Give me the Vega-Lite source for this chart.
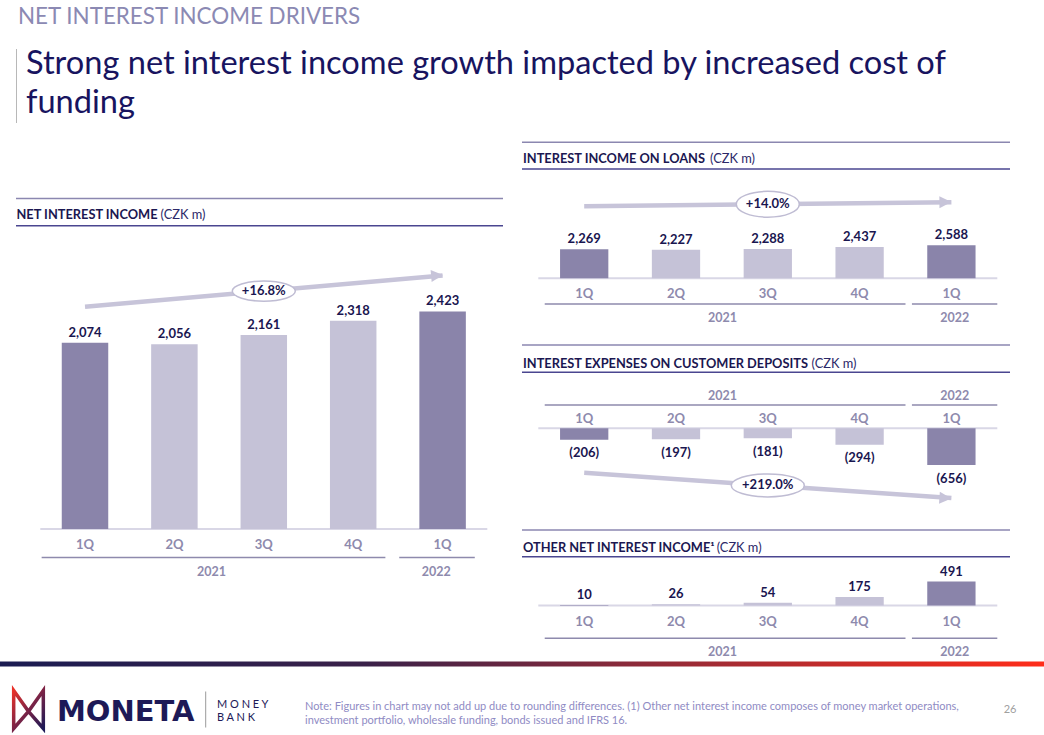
{
  "$schema": "https://vega.github.io/schema/vega-lite/v6.json",
  "width": 1044,
  "height": 735,
  "autosize": {"type": "none"},
  "padding": 0,
  "background": "white",
  "config": {"axis": {"disable": true}, "view": {"stroke": null}, "font": "Lato"},
  "datasets": {
    "quarters": [
      {"period": "1Q 2021", "quarter": "1Q", "year": "2021", "nii": 2074, "loans": 2269, "deposits": -206, "other": 10},
      {"period": "2Q 2021", "quarter": "2Q", "year": "2021", "nii": 2056, "loans": 2227, "deposits": -197, "other": 26},
      {"period": "3Q 2021", "quarter": "3Q", "year": "2021", "nii": 2161, "loans": 2288, "deposits": -181, "other": 54},
      {"period": "4Q 2021", "quarter": "4Q", "year": "2021", "nii": 2318, "loans": 2437, "deposits": -294, "other": 175},
      {"period": "1Q 2022", "quarter": "1Q", "year": "2022", "nii": 2423, "loans": 2588, "deposits": -656, "other": 491}
    ],
    "years": [
      {"year": "2021", "first": "1Q 2021", "last": "4Q 2021"},
      {"year": "2022", "first": "1Q 2022", "last": "1Q 2022"}
    ],
    "span": [{"from": "1Q 2021", "to": "1Q 2022"}]
  },
  "resolve": {"scale": {"x": "independent", "y": "independent"}},
  "layer": [
    {
      "layer": [
        {"data": {"name": "span"}, "mark": {"type": "rule", "color": "#d9d7e6", "strokeWidth": 2},
         "encoding": {"x": {"field": "from", "type": "nominal", "bandPosition": 0}, "x2": {"field": "to", "bandPosition": 1}, "y": {"datum": 0, "type": "quantitative"}}},
        {"data": {"name": "quarters"}, "mark": {"type": "bar", "width": {"band": 0.52}},
         "encoding": {
           "x": {"field": "period", "type": "nominal", "scale": {"type": "band", "domain": ["1Q 2021", "2Q 2021", "3Q 2021", "4Q 2021", "1Q 2022"], "range": [40.3, 487.3], "paddingInner": 0, "paddingOuter": 0}},
           "y": {"field": "nii", "type": "quantitative", "scale": {"domain": [0, 2500], "range": [529, 304.5], "nice": false}},
           "color": {"condition": {"test": "datum.quarter === '1Q'", "value": "#8a84aa"}, "value": "#c5c2d7"}}},
        {"data": {"name": "quarters"}, "mark": {"type": "text", "baseline": "alphabetic", "dy": -6, "fontSize": 13, "fontWeight": "bold", "color": "#1a1650"},
         "encoding": {"x": {"field": "period", "type": "nominal"}, "y": {"field": "nii", "type": "quantitative"}, "text": {"field": "nii", "type": "quantitative", "format": ","}}},
        {"data": {"name": "quarters"}, "mark": {"type": "text", "baseline": "middle", "fontSize": 13, "fontWeight": "bold", "color": "#8e8aad"},
         "encoding": {"x": {"field": "period", "type": "nominal"}, "y": {"datum": -178, "type": "quantitative"}, "text": {"field": "quarter"}}},
        {"data": {"name": "years"}, "mark": {"type": "rule", "color": "#8e8aad", "strokeWidth": 1.5},
         "encoding": {"x": {"field": "first", "type": "nominal", "bandPosition": 0.015}, "x2": {"field": "last", "bandPosition": 0.86}, "y": {"datum": -317, "type": "quantitative"}}},
        {"data": {"name": "years"}, "transform": [{"filter": "datum.year === '2021'"}], "mark": {"type": "text", "baseline": "middle", "fontSize": 12.5, "fontWeight": "bold", "color": "#8e8aad"},
         "encoding": {"x": {"field": "first", "type": "nominal", "bandPosition": 1.915}, "y": {"datum": -484, "type": "quantitative"}, "text": {"field": "year"}}},
        {"data": {"name": "years"}, "transform": [{"filter": "datum.year === '2022'"}], "mark": {"type": "text", "baseline": "middle", "fontSize": 12.5, "fontWeight": "bold", "color": "#8e8aad"},
         "encoding": {"x": {"field": "first", "type": "nominal", "bandPosition": 0.43}, "y": {"datum": -484, "type": "quantitative"}, "text": {"field": "year"}}},
        {"data": {"name": "quarters"}, "transform": [{"filter": {"field": "period", "oneOf": ["1Q 2021", "1Q 2022"]}}], "mark": {"type": "line", "color": "#c7c4d9", "strokeWidth": 4.5, "strokeCap": "butt", "yOffset": -36},
         "encoding": {"x": {"field": "period", "type": "nominal"}, "y": {"field": "nii", "type": "quantitative"}}},
        {"data": {"name": "quarters"}, "transform": [{"filter": "datum.period === '1Q 2022'"}], "mark": {"type": "point", "shape": "M-1,-1L1,0L-1,1Z", "size": 144, "filled": true, "opacity": 1, "color": "#c7c4d9", "angle": -5, "xOffset": -5.5, "yOffset": -36},
         "encoding": {"x": {"field": "period", "type": "nominal"}, "y": {"field": "nii", "type": "quantitative"}}},
        {"data": {"name": "quarters"}, "transform": [{"filter": {"field": "period", "oneOf": ["1Q 2021", "1Q 2022"]}}, {"aggregate": [{"op": "mean", "field": "nii", "as": "mid_nii"}]}],
         "mark": {"type": "point", "shape": "M-1,0C-1,-0.177,-0.552,-0.32,0,-0.32C0.552,-0.32,1,-0.177,1,0C1,0.177,0.552,0.32,0,0.32C-0.552,0.32,-1,0.177,-1,0Z", "size": 3969, "filled": true, "fill": "white", "stroke": "#bfbcd3", "strokeWidth": 1.5, "opacity": 1, "yOffset": -36},
         "encoding": {"x": {"datum": "3Q 2021", "type": "nominal"}, "y": {"field": "mid_nii", "type": "quantitative"}}},
        {"data": {"name": "quarters"}, "transform": [{"filter": {"field": "period", "oneOf": ["1Q 2021", "1Q 2022"]}}, {"aggregate": [{"op": "mean", "field": "nii", "as": "mid_nii"}]}],
         "mark": {"type": "text", "baseline": "middle", "fontSize": 13, "fontWeight": "bold", "color": "#1a1650", "yOffset": -36},
         "encoding": {"x": {"datum": "3Q 2021", "type": "nominal"}, "y": {"field": "mid_nii", "type": "quantitative"}, "text": {"value": "+16.8%"}}}
      ]
    },
    {
      "layer": [
        {"data": {"name": "span"}, "mark": {"type": "rule", "color": "#d9d7e6", "strokeWidth": 2},
         "encoding": {"x": {"field": "from", "type": "nominal", "bandPosition": 0}, "x2": {"field": "to", "bandPosition": 1}, "y": {"datum": 0, "type": "quantitative"}}},
        {"data": {"name": "quarters"}, "mark": {"type": "bar", "width": {"band": 0.526}},
         "encoding": {
           "x": {"field": "period", "type": "nominal", "scale": {"type": "band", "domain": ["1Q 2021", "2Q 2021", "3Q 2021", "4Q 2021", "1Q 2022"], "range": [538.3, 997.3], "paddingInner": 0, "paddingOuter": 0}},
           "y": {"field": "loans", "type": "quantitative", "scale": {"domain": [0, 2500], "range": [278.2, 246.3], "nice": false}},
           "color": {"condition": {"test": "datum.quarter === '1Q'", "value": "#8a84aa"}, "value": "#c5c2d7"}}},
        {"data": {"name": "quarters"}, "mark": {"type": "text", "baseline": "alphabetic", "dy": -6, "fontSize": 13, "fontWeight": "bold", "color": "#1a1650"},
         "encoding": {"x": {"field": "period", "type": "nominal"}, "y": {"field": "loans", "type": "quantitative"}, "text": {"field": "loans", "type": "quantitative", "format": ","}}},
        {"data": {"name": "quarters"}, "mark": {"type": "text", "baseline": "middle", "fontSize": 13, "fontWeight": "bold", "color": "#8e8aad"},
         "encoding": {"x": {"field": "period", "type": "nominal"}, "y": {"datum": -1277, "type": "quantitative"}, "text": {"field": "quarter"}}},
        {"data": {"name": "years"}, "mark": {"type": "rule", "color": "#8e8aad", "strokeWidth": 1.5},
         "encoding": {"x": {"field": "first", "type": "nominal", "bandPosition": 0.07}, "x2": {"field": "last", "bandPosition": 1.0}, "y": {"datum": -2022, "type": "quantitative"}}},
        {"data": {"name": "years"}, "transform": [{"filter": "datum.year === '2021'"}], "mark": {"type": "text", "baseline": "middle", "fontSize": 12.5, "fontWeight": "bold", "color": "#8e8aad"},
         "encoding": {"x": {"field": "first", "type": "nominal", "bandPosition": 2.007}, "y": {"datum": -3119, "type": "quantitative"}, "text": {"field": "year"}}},
        {"data": {"name": "years"}, "transform": [{"filter": "datum.year === '2022'"}], "mark": {"type": "text", "baseline": "middle", "fontSize": 12.5, "fontWeight": "bold", "color": "#8e8aad"},
         "encoding": {"x": {"field": "first", "type": "nominal", "bandPosition": 0.536}, "y": {"datum": -3119, "type": "quantitative"}, "text": {"field": "year"}}},
        {"data": {"name": "quarters"}, "transform": [{"filter": {"field": "period", "oneOf": ["1Q 2021", "1Q 2022"]}}], "mark": {"type": "line", "color": "#c7c4d9", "strokeWidth": 4.5, "strokeCap": "butt", "yOffset": -43},
         "encoding": {"x": {"field": "period", "type": "nominal"}, "y": {"field": "loans", "type": "quantitative"}}},
        {"data": {"name": "quarters"}, "transform": [{"filter": "datum.period === '1Q 2022'"}], "mark": {"type": "point", "shape": "M-1,-1L1,0L-1,1Z", "size": 144, "filled": true, "opacity": 1, "color": "#c7c4d9", "angle": -0.6, "xOffset": -6, "yOffset": -43},
         "encoding": {"x": {"field": "period", "type": "nominal"}, "y": {"field": "loans", "type": "quantitative"}}},
        {"data": {"name": "quarters"}, "transform": [{"filter": {"field": "period", "oneOf": ["1Q 2021", "1Q 2022"]}}, {"aggregate": [{"op": "mean", "field": "loans", "as": "mid_loans"}]}],
         "mark": {"type": "point", "shape": "M-1,0C-1,-0.226,-0.552,-0.41,0,-0.41C0.552,-0.41,1,-0.226,1,0C1,0.226,0.552,0.41,0,0.41C-0.552,0.41,-1,0.226,-1,0Z", "size": 3969, "filled": true, "fill": "white", "stroke": "#bfbcd3", "strokeWidth": 1.5, "opacity": 1, "yOffset": -43},
         "encoding": {"x": {"datum": "3Q 2021", "type": "nominal"}, "y": {"field": "mid_loans", "type": "quantitative"}}},
        {"data": {"name": "quarters"}, "transform": [{"filter": {"field": "period", "oneOf": ["1Q 2021", "1Q 2022"]}}, {"aggregate": [{"op": "mean", "field": "loans", "as": "mid_loans"}]}],
         "mark": {"type": "text", "baseline": "middle", "fontSize": 13, "fontWeight": "bold", "color": "#1a1650", "yOffset": -43},
         "encoding": {"x": {"datum": "3Q 2021", "type": "nominal"}, "y": {"field": "mid_loans", "type": "quantitative"}, "text": {"value": "+14.0%"}}}
      ]
    },
    {
      "layer": [
        {"data": {"name": "span"}, "mark": {"type": "rule", "color": "#d9d7e6", "strokeWidth": 2},
         "encoding": {"x": {"field": "from", "type": "nominal", "bandPosition": 0}, "x2": {"field": "to", "bandPosition": 1}, "y": {"datum": 0, "type": "quantitative"}}},
        {"data": {"name": "quarters"}, "mark": {"type": "bar", "width": {"band": 0.526}},
         "encoding": {
           "x": {"field": "period", "type": "nominal", "scale": {"type": "band", "domain": ["1Q 2021", "2Q 2021", "3Q 2021", "4Q 2021", "1Q 2022"], "range": [538.3, 997.3], "paddingInner": 0, "paddingOuter": 0}},
           "y": {"field": "deposits", "type": "quantitative", "scale": {"domain": [-1000, 0], "range": [484.4, 428.2], "nice": false}},
           "color": {"condition": {"test": "datum.quarter === '1Q'", "value": "#8a84aa"}, "value": "#c5c2d7"}}},
        {"data": {"name": "quarters"}, "mark": {"type": "text", "baseline": "alphabetic", "dy": 17.5, "fontSize": 13, "fontWeight": "bold", "color": "#1a1650"},
         "encoding": {"x": {"field": "period", "type": "nominal"}, "y": {"field": "deposits", "type": "quantitative"}, "text": {"field": "deposits", "type": "quantitative", "format": "(,"}}},
        {"data": {"name": "quarters"}, "mark": {"type": "text", "baseline": "middle", "fontSize": 13, "fontWeight": "bold", "color": "#8e8aad"},
         "encoding": {"x": {"field": "period", "type": "nominal"}, "y": {"datum": 155, "type": "quantitative"}, "text": {"field": "quarter"}}},
        {"data": {"name": "years"}, "mark": {"type": "rule", "color": "#8e8aad", "strokeWidth": 1.5},
         "encoding": {"x": {"field": "first", "type": "nominal", "bandPosition": 0.07}, "x2": {"field": "last", "bandPosition": 1.0}, "y": {"datum": 413, "type": "quantitative"}}},
        {"data": {"name": "years"}, "transform": [{"filter": "datum.year === '2021'"}], "mark": {"type": "text", "baseline": "middle", "fontSize": 12.5, "fontWeight": "bold", "color": "#8e8aad"},
         "encoding": {"x": {"field": "first", "type": "nominal", "bandPosition": 2.007}, "y": {"datum": 573, "type": "quantitative"}, "text": {"field": "year"}}},
        {"data": {"name": "years"}, "transform": [{"filter": "datum.year === '2022'"}], "mark": {"type": "text", "baseline": "middle", "fontSize": 12.5, "fontWeight": "bold", "color": "#8e8aad"},
         "encoding": {"x": {"field": "first", "type": "nominal", "bandPosition": 0.536}, "y": {"datum": 573, "type": "quantitative"}, "text": {"field": "year"}}},
        {"data": {"name": "quarters"}, "transform": [{"filter": {"field": "period", "oneOf": ["1Q 2021", "1Q 2022"]}}], "mark": {"type": "line", "color": "#c7c4d9", "strokeWidth": 4.5, "strokeCap": "butt", "yOffset": 33},
         "encoding": {"x": {"field": "period", "type": "nominal"}, "y": {"field": "deposits", "type": "quantitative"}}},
        {"data": {"name": "quarters"}, "transform": [{"filter": "datum.period === '1Q 2022'"}], "mark": {"type": "point", "shape": "M-1,-1L1,0L-1,1Z", "size": 144, "filled": true, "opacity": 1, "color": "#c7c4d9", "angle": 4, "xOffset": -6, "yOffset": 33},
         "encoding": {"x": {"field": "period", "type": "nominal"}, "y": {"field": "deposits", "type": "quantitative"}}},
        {"data": {"name": "quarters"}, "transform": [{"filter": {"field": "period", "oneOf": ["1Q 2021", "1Q 2022"]}}, {"aggregate": [{"op": "mean", "field": "deposits", "as": "mid_dep"}]}],
         "mark": {"type": "point", "shape": "M-1,0C-1,-0.174,-0.552,-0.315,0,-0.315C0.552,-0.315,1,-0.174,1,0C1,0.174,0.552,0.315,0,0.315C-0.552,0.315,-1,0.174,-1,0Z", "size": 5329, "filled": true, "fill": "white", "stroke": "#bfbcd3", "strokeWidth": 1.5, "opacity": 1, "yOffset": 33},
         "encoding": {"x": {"datum": "3Q 2021", "type": "nominal"}, "y": {"field": "mid_dep", "type": "quantitative"}}},
        {"data": {"name": "quarters"}, "transform": [{"filter": {"field": "period", "oneOf": ["1Q 2021", "1Q 2022"]}}, {"aggregate": [{"op": "mean", "field": "deposits", "as": "mid_dep"}]}],
         "mark": {"type": "text", "baseline": "middle", "fontSize": 13, "fontWeight": "bold", "color": "#1a1650", "yOffset": 33},
         "encoding": {"x": {"datum": "3Q 2021", "type": "nominal"}, "y": {"field": "mid_dep", "type": "quantitative"}, "text": {"value": "+219.0%"}}}
      ]
    },
    {
      "layer": [
        {"data": {"name": "span"}, "mark": {"type": "rule", "color": "#d9d7e6", "strokeWidth": 2},
         "encoding": {"x": {"field": "from", "type": "nominal", "bandPosition": 0}, "x2": {"field": "to", "bandPosition": 1}, "y": {"datum": 0, "type": "quantitative"}}},
        {"data": {"name": "quarters"}, "mark": {"type": "bar", "width": {"band": 0.526}},
         "encoding": {
           "x": {"field": "period", "type": "nominal", "scale": {"type": "band", "domain": ["1Q 2021", "2Q 2021", "3Q 2021", "4Q 2021", "1Q 2022"], "range": [538.3, 997.3], "paddingInner": 0, "paddingOuter": 0}},
           "y": {"field": "other", "type": "quantitative", "scale": {"domain": [0, 500], "range": [605.5, 581.1], "nice": false}},
           "color": {"condition": {"test": "datum.quarter === '1Q'", "value": "#8a84aa"}, "value": "#c5c2d7"}}},
        {"data": {"name": "quarters"}, "mark": {"type": "text", "baseline": "alphabetic", "dy": -6, "fontSize": 13, "fontWeight": "bold", "color": "#1a1650"},
         "encoding": {"x": {"field": "period", "type": "nominal"}, "y": {"field": "other", "type": "quantitative"}, "text": {"field": "other", "type": "quantitative", "format": ","}}},
        {"data": {"name": "quarters"}, "mark": {"type": "text", "baseline": "middle", "fontSize": 13, "fontWeight": "bold", "color": "#8e8aad"},
         "encoding": {"x": {"field": "period", "type": "nominal"}, "y": {"datum": -330, "type": "quantitative"}, "text": {"field": "quarter"}}},
        {"data": {"name": "years"}, "mark": {"type": "rule", "color": "#8e8aad", "strokeWidth": 1.5},
         "encoding": {"x": {"field": "first", "type": "nominal", "bandPosition": 0.07}, "x2": {"field": "last", "bandPosition": 1.0}, "y": {"datum": -672, "type": "quantitative"}}},
        {"data": {"name": "years"}, "transform": [{"filter": "datum.year === '2021'"}], "mark": {"type": "text", "baseline": "middle", "fontSize": 12.5, "fontWeight": "bold", "color": "#8e8aad"},
         "encoding": {"x": {"field": "first", "type": "nominal", "bandPosition": 2.007}, "y": {"datum": -953, "type": "quantitative"}, "text": {"field": "year"}}},
        {"data": {"name": "years"}, "transform": [{"filter": "datum.year === '2022'"}], "mark": {"type": "text", "baseline": "middle", "fontSize": 12.5, "fontWeight": "bold", "color": "#8e8aad"},
         "encoding": {"x": {"field": "first", "type": "nominal", "bandPosition": 0.536}, "y": {"datum": -953, "type": "quantitative"}, "text": {"field": "year"}}}
      ]
    },
    {"data": {"values": [{}]}, "mark": {"type": "text", "align": "left", "baseline": "alphabetic", "fontSize": 22.4, "color": "#8b89b3"},
     "encoding": {"x": {"value": 18}, "y": {"value": 24}, "text": {"value": "NET INTEREST INCOME DRIVERS"}}},
    {"data": {"values": [{}]}, "mark": {"type": "text", "align": "left", "baseline": "alphabetic", "fontSize": 32.6, "lineHeight": 39.2, "color": "#18145f"},
     "encoding": {"x": {"value": 26}, "y": {"value": 74}, "text": {"value": ["Strong net interest income growth impacted by increased cost of", "funding"]}}},
    {"data": {"values": [{}]}, "mark": {"type": "rule", "color": "#b8b8b8", "strokeWidth": 1},
     "encoding": {"x": {"value": 16.5}, "y": {"value": 49}, "y2": {"value": 123}}},
    {"data": {"values": [{}]}, "mark": {"type": "rule", "color": "#8b87b0", "strokeWidth": 1.5},
     "encoding": {"x": {"value": 16}, "x2": {"value": 503}, "y": {"value": 198.5}}},
    {"data": {"values": [{}]}, "mark": {"type": "rule", "color": "#4a4690", "strokeWidth": 1.5},
     "encoding": {"x": {"value": 16}, "x2": {"value": 503}, "y": {"value": 225.7}}},
    {"data": {"values": [{}]}, "mark": {"type": "rule", "color": "#8b87b0", "strokeWidth": 1.5},
     "encoding": {"x": {"value": 522}, "x2": {"value": 1010}, "y": {"value": 142.3}}},
    {"data": {"values": [{}]}, "mark": {"type": "rule", "color": "#4a4690", "strokeWidth": 1.5},
     "encoding": {"x": {"value": 522}, "x2": {"value": 1010}, "y": {"value": 169}}},
    {"data": {"values": [{}]}, "mark": {"type": "rule", "color": "#8b87b0", "strokeWidth": 1.5},
     "encoding": {"x": {"value": 522}, "x2": {"value": 1010}, "y": {"value": 345}}},
    {"data": {"values": [{}]}, "mark": {"type": "rule", "color": "#4a4690", "strokeWidth": 1.5},
     "encoding": {"x": {"value": 522}, "x2": {"value": 1010}, "y": {"value": 372.3}}},
    {"data": {"values": [{}]}, "mark": {"type": "rule", "color": "#8b87b0", "strokeWidth": 1.5},
     "encoding": {"x": {"value": 522}, "x2": {"value": 1010}, "y": {"value": 530}}},
    {"data": {"values": [{}]}, "mark": {"type": "rule", "color": "#4a4690", "strokeWidth": 1.5},
     "encoding": {"x": {"value": 522}, "x2": {"value": 1010}, "y": {"value": 556.7}}},
    {"data": {"values": [{}]}, "mark": {"type": "text", "align": "left", "baseline": "alphabetic", "fontSize": 12.8, "fontWeight": "bold", "color": "#1b1751"},
     "encoding": {"x": {"value": 16.5}, "y": {"value": 219.3}, "text": {"value": "NET INTEREST INCOME"}}},
    {"data": {"values": [{}]}, "mark": {"type": "text", "align": "left", "baseline": "alphabetic", "fontSize": 12.8, "color": "#2c2868"},
     "encoding": {"x": {"value": 160.5}, "y": {"value": 219.3}, "text": {"value": "(CZK m)"}}},
    {"data": {"values": [{}]}, "mark": {"type": "text", "align": "left", "baseline": "alphabetic", "fontSize": 12.8, "fontWeight": "bold", "color": "#1b1751"},
     "encoding": {"x": {"value": 523}, "y": {"value": 162.7}, "text": {"value": "INTEREST INCOME ON LOANS"}}},
    {"data": {"values": [{}]}, "mark": {"type": "text", "align": "left", "baseline": "alphabetic", "fontSize": 12.8, "color": "#2c2868"},
     "encoding": {"x": {"value": 710}, "y": {"value": 162.7}, "text": {"value": "(CZK m)"}}},
    {"data": {"values": [{}]}, "mark": {"type": "text", "align": "left", "baseline": "alphabetic", "fontSize": 12.8, "fontWeight": "bold", "color": "#1b1751"},
     "encoding": {"x": {"value": 523}, "y": {"value": 367.7}, "text": {"value": "INTEREST EXPENSES ON CUSTOMER DEPOSITS"}}},
    {"data": {"values": [{}]}, "mark": {"type": "text", "align": "left", "baseline": "alphabetic", "fontSize": 12.8, "color": "#2c2868"},
     "encoding": {"x": {"value": 811.5}, "y": {"value": 367.7}, "text": {"value": "(CZK m)"}}},
    {"data": {"values": [{}]}, "mark": {"type": "text", "align": "left", "baseline": "alphabetic", "fontSize": 12.8, "fontWeight": "bold", "color": "#1b1751"},
     "encoding": {"x": {"value": 523}, "y": {"value": 551.7}, "text": {"value": "OTHER NET INTEREST INCOME¹"}}},
    {"data": {"values": [{}]}, "mark": {"type": "text", "align": "left", "baseline": "alphabetic", "fontSize": 12.8, "color": "#2c2868"},
     "encoding": {"x": {"value": 716.7}, "y": {"value": 551.7}, "text": {"value": "(CZK m)"}}},
    {"data": {"values": [{}]}, "mark": {"type": "rect", "fill": {"gradient": "linear", "x1": 0, "y1": 0, "x2": 1, "y2": 0, "stops": [{"offset": 0, "color": "#1b1c52"}, {"offset": 0.35, "color": "#3a2149"}, {"offset": 0.6, "color": "#8a2a3a"}, {"offset": 1, "color": "#ff2d1a"}]}},
     "encoding": {"x": {"value": 0}, "x2": {"value": 1044}, "y": {"value": 661.5}, "y2": {"value": 666.5}}},
    {"data": {"values": [{}]}, "mark": {"type": "point", "shape": "M-0.78,-1L0,0.1L-0.78,1ZM0.78,-1L0,0.1L0.78,1Z", "size": 1444, "filled": false, "opacity": 1, "strokeWidth": 3.5, "strokeJoin": "miter", "stroke": {"gradient": "linear", "x1": 0, "y1": 0, "x2": 1, "y2": 1, "stops": [{"offset": 0, "color": "#e8322a"}, {"offset": 0.5, "color": "#7a2346"}, {"offset": 1, "color": "#1d1a57"}]}},
     "encoding": {"x": {"value": 28.5}, "y": {"value": 709.5}}},
    {"data": {"values": [{}]}, "mark": {"type": "text", "align": "left", "baseline": "alphabetic", "font": "DejaVu Sans", "fontSize": 29, "fontWeight": "bold", "color": "#1d1957"},
     "encoding": {"x": {"value": 57}, "y": {"value": 720.7}, "text": {"value": "MONETA"}}},
    {"data": {"values": [{}]}, "mark": {"type": "rule", "color": "#9a9a9a", "strokeWidth": 1},
     "encoding": {"x": {"value": 205.7}, "y": {"value": 691.5}, "y2": {"value": 727.5}}},
    {"data": {"values": [{}]}, "mark": {"type": "text", "align": "left", "baseline": "alphabetic", "fontSize": 11, "color": "#1d1957", "lineHeight": 13},
     "encoding": {"x": {"value": 217}, "y": {"value": 707.5}, "text": {"value": ["M O N E Y", "B A N K"]}}},
    {"data": {"values": [{}]}, "mark": {"type": "text", "align": "left", "baseline": "alphabetic", "fontSize": 11, "color": "#8f8bc4", "lineHeight": 14},
     "encoding": {"x": {"value": 305}, "y": {"value": 709.5}, "text": {"value": ["Note: Figures in chart may not add up due to rounding differences. (1) Other net interest income composes of money market operations,", "investment portfolio, wholesale funding, bonds issued and IFRS 16."]}}},
    {"data": {"values": [{}]}, "mark": {"type": "text", "align": "center", "baseline": "alphabetic", "fontSize": 11, "color": "#a0a0a0"},
     "encoding": {"x": {"value": 1010}, "y": {"value": 713}, "text": {"value": "26"}}}
  ]
}
